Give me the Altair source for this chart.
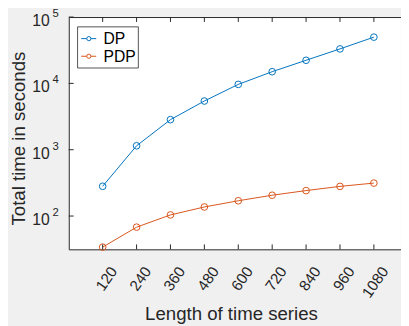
import altair as alt
import pandas as pd

# ---- data ----
lengths = [120, 240, 360, 480, 600, 720, 840, 960, 1080]
dp_times = [281, 1146, 2840, 5420, 9660, 15000, 22300, 33100, 49800]
pdp_times = [34, 68, 104, 137, 170, 206, 242, 280, 314]
series_names = ["DP", "PDP"]
series_colors = ["#0072BD", "#D95319"]
y_tick_values = [100, 1000, 10000, 100000]
y_tick_exps = ["2", "3", "4", "5"]
x_title = "Length of time series"
y_title = "Total time in seconds"

W, H = 339, 237
AX = "#262626"
FONT = "Liberation Sans"

df = pd.DataFrame({
    "len": lengths * 2,
    "time": dp_times + pdp_times,
    "series": [series_names[0]] * len(lengths) + [series_names[1]] * len(lengths),
})
yt = pd.DataFrame({"v": y_tick_values, "e": y_tick_exps, "b": ["10"] * len(y_tick_values)})
xt = pd.DataFrame({"len": lengths})

xscale = alt.Scale(domain=[0, 1176], nice=False, zero=False)
yscale = alt.Scale(type="log", domain=[31.5, 100000], nice=False)
cscale = alt.Scale(domain=series_names, range=series_colors)

xaxis = alt.Axis(values=lengths, format="d", labelAngle=305, labelAlign="right", labelBaseline="middle",
                 labelOffset=11, labelPadding=19, ticks=False, tickSize=0, domain=False, grid=False,
                 labelFontSize=15.5, labelColor=AX, labelFont=FONT,
                 title=x_title, titleX=165.5, titleY=72, titleBaseline="alphabetic",
                 titleFontSize=19, titleFontWeight="normal", titleColor=AX, titleFont=FONT)
yaxis = alt.Axis(labels=False, ticks=False, tickSize=0, domain=False, grid=False,
                 title=y_title, titleX=-45, titleY=123.5, titleBaseline="alphabetic",
                 titleFontSize=19, titleFontWeight="normal", titleColor=AX, titleFont=FONT)

base = alt.Chart(df)
lines = base.mark_line(strokeWidth=1).encode(
    x=alt.X("len:Q", scale=xscale, axis=xaxis),
    y=alt.Y("time:Q", scale=yscale, axis=yaxis),
    color=alt.Color("series:N", scale=cscale, legend=None),
    detail="series:N",
)
points = base.mark_point(shape="circle", filled=False, size=46, strokeWidth=1, opacity=1).encode(
    x=alt.X("len:Q", scale=xscale),
    y=alt.Y("time:Q", scale=yscale),
    color=alt.Color("series:N", scale=cscale, legend=None),
)

# inward ticks
yticks = alt.Chart(yt).mark_rule(color=AX, strokeWidth=1).encode(
    y=alt.Y("v:Q", scale=yscale), x=alt.value(0), x2=alt.value(5))
xticks_b = alt.Chart(xt).mark_rule(color=AX, strokeWidth=1).encode(
    x=alt.X("len:Q", scale=xscale), y=alt.value(H), y2=alt.value(H - 5))
xticks_t = alt.Chart(xt).mark_rule(color=AX, strokeWidth=1).encode(
    x=alt.X("len:Q", scale=xscale), y=alt.value(0), y2=alt.value(5))

# y tick labels with superscript exponents
ybase = alt.Chart(yt).mark_text(align="right", baseline="middle", fontSize=16, dy=4,
                                color=AX, font=FONT, clip=False).encode(
    y=alt.Y("v:Q", scale=yscale), x=alt.value(-19.5), text="b:N")
yexp = alt.Chart(yt).mark_text(align="left", baseline="middle", fontSize=11.5, dy=-3,
                               color=AX, font=FONT, clip=False).encode(
    y=alt.Y("v:Q", scale=yscale), x=alt.value(-16.5), text="e:N")

# legend
leg_df = pd.DataFrame({"name": series_names})
legend_box = alt.Chart(pd.DataFrame({"a": [0]})).mark_rect(
    fill="white", stroke=AX, strokeWidth=0.8).encode(
    x=alt.value(9), x2=alt.value(71), y=alt.value(10), y2=alt.value(52))
legend_layers = [legend_box]
for i, name in enumerate(series_names):
    yy = 22 + 18 * i
    d = alt.Chart(leg_df[leg_df["name"] == name])
    legend_layers.append(d.mark_rule(color=series_colors[i], strokeWidth=1).encode(
        x=alt.value(12.7), x2=alt.value(28), y=alt.value(yy)))
    legend_layers.append(d.mark_point(shape="circle", filled=True, fill="white", size=18,
                                      stroke=series_colors[i], strokeWidth=1, opacity=1).encode(
        x=alt.value(20.5), y=alt.value(yy)))
    legend_layers.append(d.mark_text(align="left", baseline="middle", fontSize=16,
                                     color="black", font=FONT, dy=0.5).encode(
        x=alt.value(35.5), y=alt.value(yy), text="name:N"))

chart = alt.layer(lines, points, yticks, xticks_b, xticks_t, ybase, yexp, *legend_layers).properties(
    width=W, height=H,
    autosize=alt.AutoSizeParams(type="none"),
    padding={"left": 62, "top": 6, "right": 0, "bottom": 75},
    background="#f0f0f0",
).configure_view(fill="white", stroke=AX, strokeWidth=1)

chart.save("out.html", embed_options={"renderer": "svg", "actions": False})
